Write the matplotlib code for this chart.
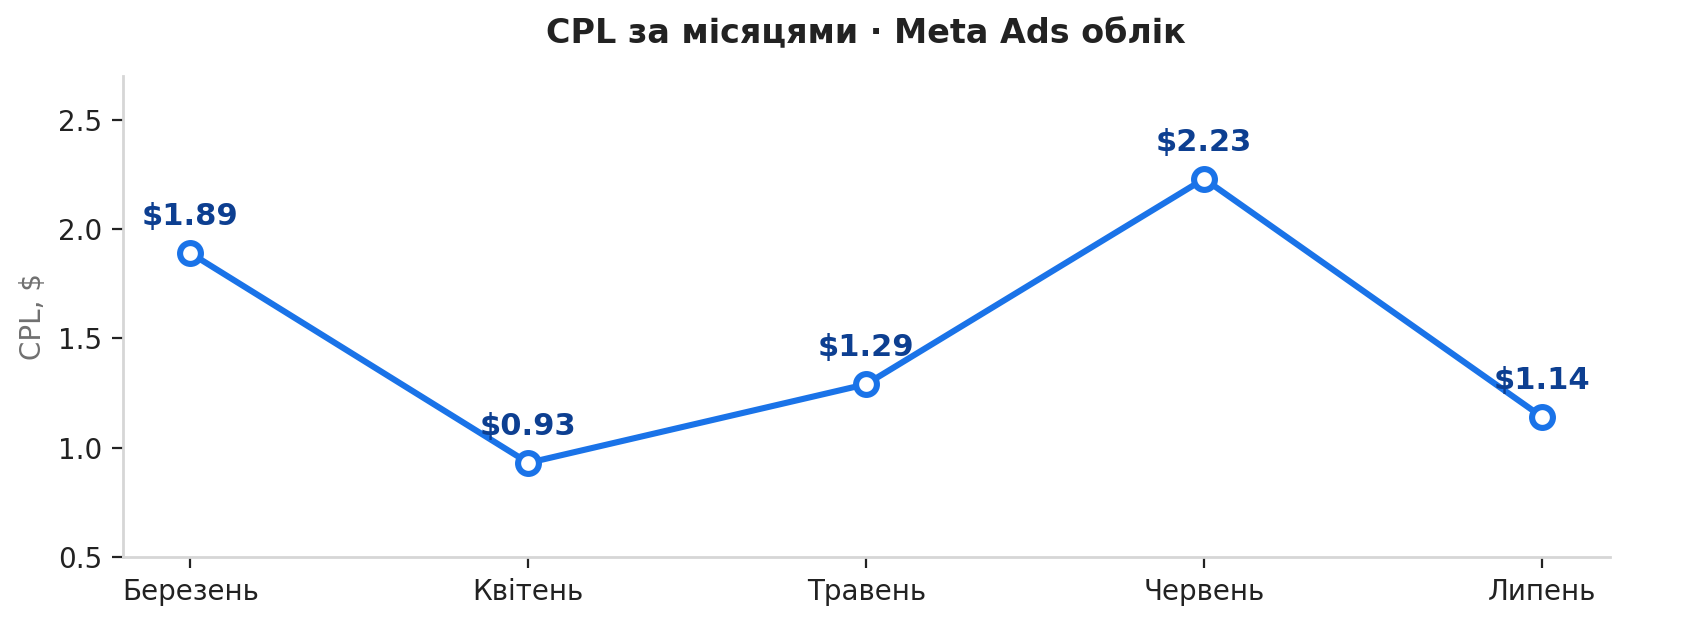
import matplotlib
matplotlib.use("Agg")
import matplotlib.pyplot as plt

months = ["Березень", "Квітень", "Травень", "Червень", "Липень"]
cpl = [1.89, 0.93, 1.29, 2.23, 1.14]
labels = ["$1.89", "$0.93", "$1.29", "$2.23", "$1.14"]
yticks = [0.5, 1.0, 1.5, 2.0, 2.5]

plt.rcParams['font.family'] = ['DejaVu Sans']

fig = plt.figure(figsize=(8.41, 3.2), dpi=200)
ax = fig.add_axes([0.073, 0.130, 0.884, 0.751])

x = list(range(len(months)))
ax.plot(x, cpl, color="#1a73e8", lw=2.2, marker="o", markersize=7.5,
        markerfacecolor="white", markeredgecolor="#1a73e8", markeredgewidth=2.2,
        solid_capstyle="round", zorder=3)

for xi, yi, lab in zip(x, cpl, labels):
    ax.annotate(lab, (xi, yi), xytext=(0, 8), textcoords="offset points",
                ha="center", va="bottom", fontsize=11, fontweight="bold",
                color="#0d3f91")

ax.set_xlim(-0.2, 4.2)
ax.set_ylim(0.5, 2.7)
ax.set_xticks(x)
ax.set_xticklabels(months, fontsize=10, color="#111111")
ax.set_yticks(yticks)
ax.set_yticklabels([f"{v:.1f}" for v in yticks], fontsize=10, color="#111111")
ax.set_ylabel("CPL, $", fontsize=10, color="#707070")

for s in ["top", "right"]:
    ax.spines[s].set_visible(False)
for s in ["left", "bottom"]:
    ax.spines[s].set_color("#d6d6d6")
    ax.spines[s].set_linewidth(1.0)
ax.tick_params(axis="both", colors="#222222", length=4, width=0.8)

ax.set_title("CPL за місяцями · Meta Ads облік", fontsize=12, fontweight="bold",
             color="#222222", pad=12)

fig.savefig("out.png", dpi=200)
